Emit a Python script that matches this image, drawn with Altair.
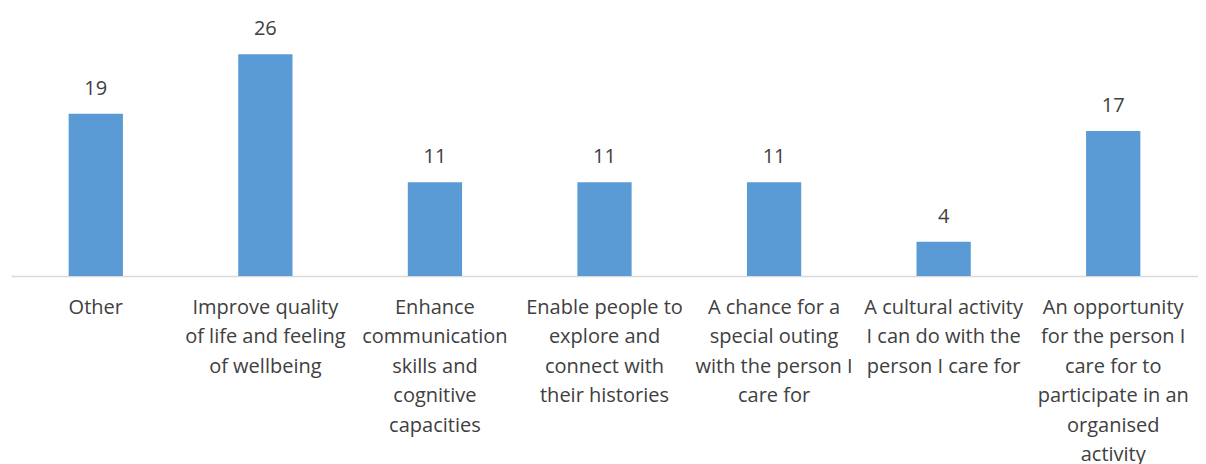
import altair as alt
import pandas as pd

categories = [
    "Other",
    "Improve quality|of life and feeling|of wellbeing",
    "Enhance|communication|skills and|cognitive|capacities",
    "Enable people to|explore and|connect with|their histories",
    "A chance for a|special outing|with the person I|care for",
    "A cultural activity|I can do with the|person I care for",
    "An opportunity|for the person I|care for to|participate in an|organised|activity",
]
values = [19, 26, 11, 11, 11, 4, 17]

df = pd.DataFrame({"cat": categories, "val": values})

FONT = "Open Sans"
TXT = "#404040"

x = alt.X(
    "cat:N",
    sort=categories,
    scale=alt.Scale(paddingInner=0.68, paddingOuter=0.34),
    axis=alt.Axis(
        title=None,
        labelAngle=0,
        ticks=False,
        domainColor="#D9D9D9",
        domainWidth=1.5,
        labelExpr="split(datum.label, '|')",
        labelFont=FONT,
        labelFontSize=20,
        labelColor=TXT,
        labelLineHeight=29.5,
        labelPadding=21,
        labelLimit=0,
        labelBaseline="top",
        labelOverlap=False,
    ),
)
y = alt.Y("val:Q", scale=alt.Scale(domain=[0, 30], nice=False), axis=None)

bars = alt.Chart(df).mark_bar(color="#5B9BD5").encode(x=x, y=y)
text = alt.Chart(df).mark_text(
    baseline="bottom", dy=-15, font=FONT, fontSize=20, color=TXT
).encode(x=x, y=y, text="val:Q")

chart = (
    (bars + text)
    .properties(
        width=1187,
        height=256,
        autosize=alt.AutoSizeParams(type="none"),
        padding={"left": 3, "top": 12, "right": 0, "bottom": 188},
    )
    .configure_view(stroke=None)
)

chart.save("out.html", embed_options={"renderer": "svg", "actions": False})
